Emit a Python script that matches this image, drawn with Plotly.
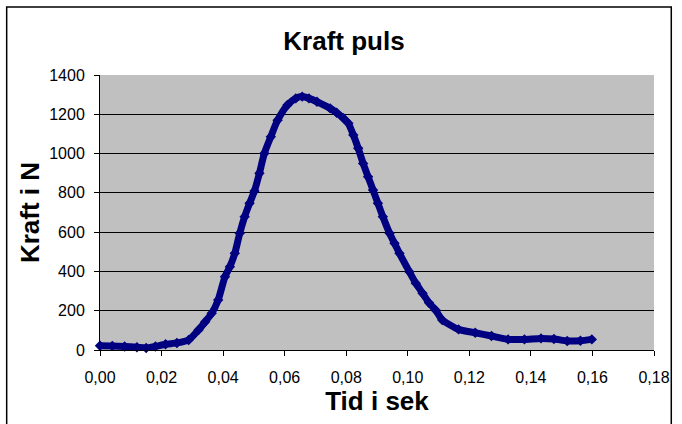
"""Kraft puls - force pulse over time, Excel-style chart in Plotly."""

import plotly.graph_objects as go

# time in seconds
tid = [0.000, 0.004, 0.008, 0.012, 0.015, 0.018, 0.0213, 0.025, 0.0288, 0.032,
       0.0342, 0.0363, 0.0384, 0.0406, 0.0422, 0.0438, 0.0454, 0.047, 0.0486,
       0.0502, 0.0518, 0.0534, 0.0555, 0.0577, 0.0609, 0.0636, 0.0657, 0.0679,
       0.0705, 0.0748, 0.0769, 0.0791, 0.0807, 0.0823, 0.0839, 0.0855, 0.0871,
       0.0887, 0.0903, 0.0919, 0.0941, 0.0957, 0.0973, 0.1005, 0.1026, 0.1048,
       0.1069, 0.109, 0.1112, 0.1165, 0.1219, 0.1272, 0.1326, 0.1379, 0.1433,
       0.1475, 0.1518, 0.1561, 0.1598]
# force in newton
kraft = [22, 21, 18, 14, 10, 18, 29, 36, 51, 102,
         144, 187, 255, 373, 424, 492, 594, 679, 747,
         810, 900, 1001, 1086, 1170, 1247, 1281, 1290, 1281,
         1264, 1230, 1208, 1180, 1154, 1095, 1027, 950, 882,
         815, 747, 679, 594, 543, 492, 399, 340, 289,
         240, 204, 153, 105, 88, 71, 54, 54, 59,
         56, 46, 47, 54]

x_ticks = [0.00, 0.02, 0.04, 0.06, 0.08, 0.10, 0.12, 0.14, 0.16, 0.18]
x_ticktext = [f"{v:.2f}".replace(".", ",") for v in x_ticks]
y_ticks = [0, 200, 400, 600, 800, 1000, 1200, 1400]

W, H = 682, 424
M = dict(l=100, r=21, t=75, b=74)
FONT = "Liberation Sans, Arial, sans-serif"
BLUE = "#000080"

fig = go.Figure()

fig.add_trace(go.Scatter(
    x=tid,
    y=kraft,
    mode="lines+markers",
    line=dict(color=BLUE, width=7, shape="spline", smoothing=0.6),
    marker=dict(symbol="diamond", size=8, color=BLUE),
    cliponaxis=False,
    showlegend=False,
))

# outer chart border (pixel coords -> paper coords)
pw = W - M["l"] - M["r"]
ph = H - M["t"] - M["b"]
fig.add_shape(
    type="rect", xref="paper", yref="paper",
    x0=(5.5 - M["l"]) / pw, x1=(678.5 - M["l"]) / pw,
    y0=(H - 440 - M["b"]) / ph, y1=(H - 7 - M["b"]) / ph,
    line=dict(color="#000000", width=1.5),
    layer="below",
)

fig.update_layout(
    width=W,
    height=H,
    margin=M,
    paper_bgcolor="white",
    plot_bgcolor="#C0C0C0",
    font=dict(family=FONT, color="black", size=16),
    title=dict(
        text="<b>Kraft puls</b>",
        font=dict(size=26, family=FONT),
        x=344 / W, xanchor="center", xref="container",
        y=1 - 41 / H, yanchor="middle", yref="container",
    ),
    xaxis=dict(
        range=[0, 0.18],
        tickvals=x_ticks,
        ticktext=x_ticktext,
        ticks="outside",
        ticklen=5,
        tickcolor="black",
        showline=True,
        linecolor="black",
        linewidth=1,
        showgrid=False,
        zeroline=False,
        tickfont=dict(size=16),
        ticklabelstandoff=8,
        title=dict(text="<b>Tid i sek</b>", font=dict(size=26), standoff=6),
    ),
    yaxis=dict(
        range=[0, 1400],
        tickvals=y_ticks,
        ticks="outside",
        ticklen=5,
        tickcolor="black",
        showline=True,
        linecolor="black",
        linewidth=1,
        showgrid=True,
        gridcolor="black",
        gridwidth=1,
        zeroline=False,
        tickfont=dict(size=16),
        ticklabelstandoff=6,
        title=dict(text="<b>Kraft i N</b>", font=dict(size=26), standoff=2),
    ),
)

# drop the default body margin so the figure sits at the page origin
fig.write_html(
    "out.html",
    config={"displayModeBar": False},
    post_script="document.body.style.margin='0';document.body.style.overflow='hidden';",
)
